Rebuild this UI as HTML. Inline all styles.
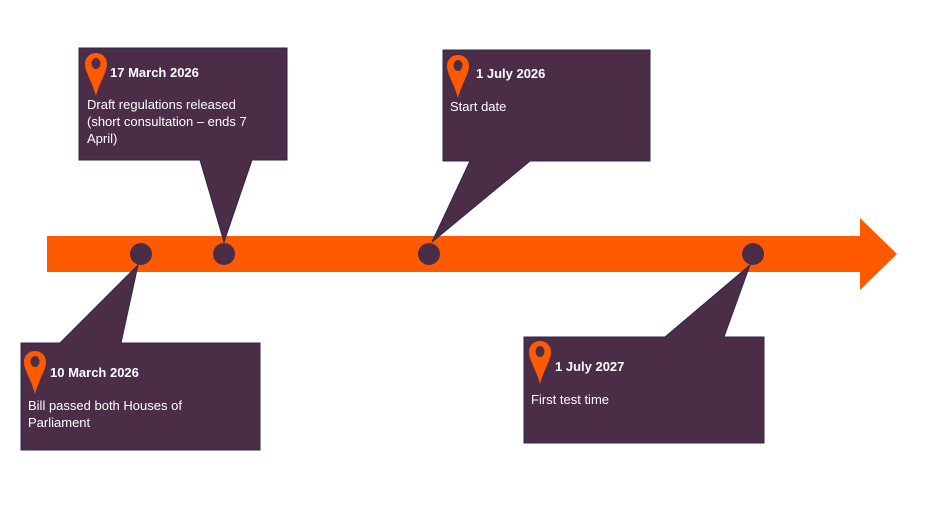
<!DOCTYPE html>
<html><head><style>
body{margin:0;background:#fff;width:940px;height:529px;overflow:hidden;font-family:"Liberation Sans",Arial,sans-serif}
svg{display:block}
text{font-family:"Liberation Sans",Arial,sans-serif;fill:#fff;font-size:13px}
.b{font-weight:bold}
</style></head><body>
<svg width="940" height="529" viewBox="0 0 940 529">
<defs>
<g id="pin"><path d="M0,0 C-6.5,0 -11,5 -11,11 C-11,19 -4,28 0,43 C4,28 11,19 11,11 C11,5 6.5,0 0,0 Z" fill="#FF5A00"/><ellipse cx="0" cy="10.5" rx="4.5" ry="5.5" fill="#4B2D47"/></g>
</defs>
<!-- arrow -->
<polygon points="47,236 860,236 860,218 897,254 860,290 860,272 47,272" fill="#FF5A00"/>
<!-- callouts -->
<g fill="#4B2D47" stroke="#2a2850" stroke-width="1">
<path d="M79,48 H287 V160 H252 L224,242 L200,160 H79 Z"/>
<path d="M443,50 H650 V161 H530 L432,242 L470,161 H443 Z"/>
<path d="M21,343 H60 L138,265 L121,343 H260 V450 H21 Z"/>
<path d="M524,337 H665 L750,265 L724,337 H764 V443 H524 Z"/>
</g>
<!-- dots -->
<g fill="#4B2D47"><circle cx="141" cy="254" r="11"/><circle cx="224" cy="254" r="11"/><circle cx="429" cy="254" r="11"/><circle cx="753" cy="254" r="11"/></g>
<!-- pins -->
<use href="#pin" x="96" y="53"/>
<use href="#pin" x="458" y="55"/>
<use href="#pin" x="35" y="351"/>
<use href="#pin" x="540" y="341"/>
<!-- text -->
<text x="110" y="77" class="b">17 March 2026</text>
<text x="87" y="109">Draft regulations released</text>
<text x="87" y="126">(short consultation – ends 7</text>
<text x="87" y="143">April)</text>
<text x="476" y="78" class="b">1 July 2026</text>
<text x="450" y="111">Start date</text>
<text x="50" y="377" class="b">10 March 2026</text>
<text x="28" y="410">Bill passed both Houses of</text>
<text x="28" y="427">Parliament</text>
<text x="555" y="371" class="b">1 July 2027</text>
<text x="531" y="404">First test time</text>
</svg>
</body></html>
